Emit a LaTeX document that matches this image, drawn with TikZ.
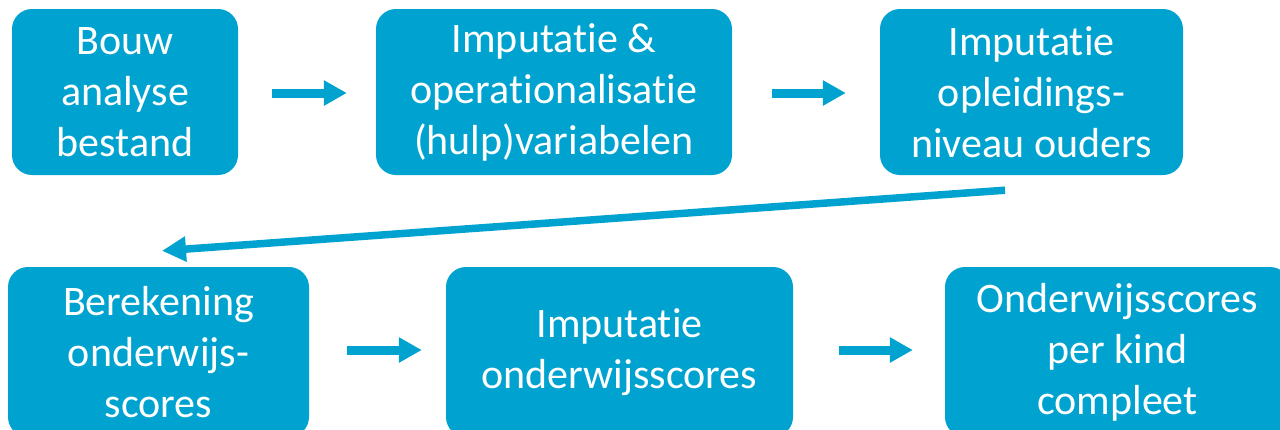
\documentclass[tikz,border=0pt]{standalone}
\usepackage{fontspec}
\setmainfont{Carlito}[Ligatures=NoCommon]
\usetikzlibrary{arrows.meta,calc}
\definecolor{boxblue}{HTML}{00A3CF}
\tikzset{
  stepbox/.style={fill=boxblue, draw=none, rounded corners=20pt, text=white,
    align=center, inner sep=0pt, font=\fontsize{42}{51}\selectfont},
  arr/.style={draw=boxblue, line width=9pt,
    -{Triangle[length=23pt,width=24pt]}},
  diag/.style={draw=boxblue, line width=7.5pt,
    -{Triangle[length=24pt,width=24pt]}}
}
\begin{document}
\begin{tikzpicture}[x=1pt,y=-1pt]
\clip (0,0) rectangle (1280,429);
\fill[white] (0,0) rectangle (1280,429);
\node[stepbox, minimum width=226pt, minimum height=166pt] (b1) at (125,92) {Bouw\\analyse\\bestand};
\node[stepbox, minimum width=356pt, minimum height=166pt] (b2) at (554,92) {Imputatie \&\\operationalisatie\\(hulp)variabelen};
\node[stepbox, minimum width=303pt, minimum height=166pt] (b3) at (1031.5,92) {Imputatie\\opleidings-\\niveau ouders};
\node[stepbox, minimum width=301pt, minimum height=170pt] (b4) at (158.5,352) {Berekening\\onderwijs-\\scores};
\node[stepbox, minimum width=347pt, minimum height=170pt] (b5) at (619.5,352) {Imputatie\\onderwijsscores};
\node[stepbox, minimum width=345pt, minimum height=170pt] (b6) at (1117.5,352) {Onderwijsscores\\per kind\\compleet};
\draw[arr] ($(b1.east)+(34,1)$) -- ($(b2.west)+(-29,1)$);
\draw[arr] ($(b2.east)+(40,1)$) -- ($(b3.west)+(-34,1)$);
\draw[diag] ($(b3.south)+(-26.5,15)$) -- ($(b4.north)+(3.5,-16)$);
\draw[arr] ($(b4.east)+(38,-2)$) -- ($(b5.west)+(-24,-2)$);
\draw[arr] ($(b5.east)+(46,-2)$) -- ($(b6.west)+(-32,-2)$);
\end{tikzpicture}
\end{document}
